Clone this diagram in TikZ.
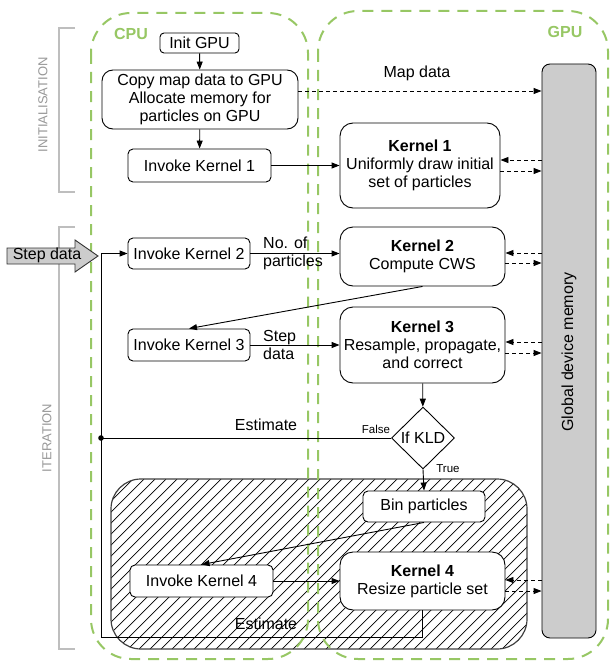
\documentclass[tikz,border=0pt]{standalone}
\usepackage{fontspec}
\setmainfont{Liberation Sans}
\usetikzlibrary{arrows.meta,shapes.geometric,calc}
\definecolor{grn}{RGB}{151,199,100}
\definecolor{memgray}{RGB}{204,204,204}
\definecolor{brk}{RGB}{190,190,190}
\tikzset{
  txt/.style={font=\fontsize{16}{18}\selectfont, inner sep=0pt},
  box/.style={txt, draw=black, line width=0.9pt, fill=white, rounded corners=5pt, align=center},
  kbox/.style={box, rounded corners=13pt},
  conn/.style={line width=0.9pt, -{Triangle[length=8pt,width=6pt]}},
  plain/.style={line width=0.9pt},
  dconn/.style={line width=0.9pt, dash pattern=on 4pt off 3pt, -{Triangle[length=8pt,width=6pt]}},
  greenbox/.style={draw=grn, line width=2pt, dash pattern=on 11pt off 8pt, rounded corners=40pt},
  bracket/.style={draw=brk, line width=1.5pt},
  small/.style={font=\fontsize{11.5}{13}\selectfont, inner sep=0pt},
  side/.style={font=\fontsize{13}{15}\selectfont, text=brk!80!black, inner sep=0pt, rotate=90},
}
\begin{document}
\begin{tikzpicture}[x=1pt,y=-1pt]
\useasboundingbox (0,0) rectangle (611,661);
% hatched region
\begin{scope}
  \clip[rounded corners=30pt] (111,479) rectangle (527,649);
  \foreach \x in {-70,-59,...,540} { \draw[line width=0.7pt] (\x,649) -- (\x+170,479); }
\end{scope}
\draw[line width=1.2pt, draw=black!75, rounded corners=30pt] (111,479) rectangle (527,649);
% green regions
\draw[greenbox] (91,13) rectangle (308,659);
\draw[greenbox] (318,11) rectangle (608,659);
\node[txt, font=\fontsize{16}{18}\selectfont\bfseries, text=grn] (cpulbl) at (131,34) {CPU};
\node[txt, font=\fontsize{16}{18}\selectfont\bfseries, text=grn] (gpulbl) at (565,32) {GPU};
% brackets
\draw[bracket] (75,28) -- (59,28) -- (59,192) -- (75,192);
\draw[bracket] (75,227) -- (59,227) -- (59,649) -- (75,649);
\node[side] (initlbl) at (43,105) {INITIALISATION};
\node[side] (iterlbl) at (47,438) {ITERATION};
% memory
\node[txt, draw=black, line width=0.9pt, fill=memgray, rounded corners=8pt, minimum width=54pt, minimum height=574pt] (mem) at (569,351) {};
\node[txt, rotate=90] (memlbl) at (569,352) {Global device memory};
% step data arrow
\draw[line width=0.9pt, draw=black!80, fill=memgray] (7,248) -- (75,248) -- (75,240) -- (98,256) -- (75,272) -- (75,264) -- (7,264) -- cycle;
\node[txt] (stepdata) at (47,255.5) {Step data};
% nodes
\node[box, minimum width=79pt, minimum height=20pt, rounded corners=4pt] (initgpu) at (199.5,43) {Init GPU};
\node[kbox, rounded corners=11pt, minimum width=196pt, minimum height=59pt] (copy) at (200,99.5) {Copy map data to GPU\\Allocate memory for\\particles on GPU};
\node[box, minimum width=143pt, minimum height=33pt] (ik1) at (199.5,165.5) {Invoke Kernel 1};
\node[kbox, minimum width=160pt, minimum height=85pt] (k1) at (420,165.5) {\textbf{Kernel 1}\\Uniformly draw initial\\set of particles};
\node[box, minimum width=122pt, minimum height=31pt] (ik2) at (189,253.5) {Invoke Kernel 2};
\node[kbox, minimum width=165pt, minimum height=59pt] (k2) at (422.5,256.5) {\textbf{Kernel 2}\\Compute CWS};
\node[box, minimum width=122pt, minimum height=32pt] (ik3) at (189,345) {Invoke Kernel 3};
\node[kbox, minimum width=165pt, minimum height=76pt] (k3) at (422.5,345) {\textbf{Kernel 3}\\Resample, propagate,\\and correct};
\node[txt, diamond, draw=black, line width=0.9pt, fill=white, minimum width=63pt, minimum height=62pt] (kld) at (423,438) {If KLD};
\node[box, minimum width=122pt, minimum height=31pt] (bin) at (424,506.5) {Bin particles};
\node[box, minimum width=143pt, minimum height=32pt] (ik4) at (201.5,581) {Invoke Kernel 4};
\node[kbox, minimum width=165pt, minimum height=58pt] (k4) at (422.5,581) {\textbf{Kernel 4}\\Resize particle set};
\coordinate (loopbl) at (101,637);
\coordinate (looptl) at (101,253.5);
\coordinate (estdot) at (101,438);
% connectors
\draw[conn] (initgpu) -- (copy);
\draw[conn] (copy) -- (ik1);
\draw[conn] (ik1) -- (k1.west |- ik1.east);
\draw[dconn] (copy.east |- 0,91) -- (mem.west |- 0,91);
\node[txt] (maplbl) at (417,73) {Map data};
\draw[dconn] (mem.west |- 0,160) -- (k1.east |- 0,160);
\draw[dconn] (k1.east |- 0,171) -- (mem.west |- 0,171);
\draw[conn] (ik2) -- (k2.west |- ik2.east);
\node[txt, anchor=west, align=left] (noparts) at (263,253.5) {No. of\\particles};
\draw[dconn] (mem.west |- 0,253) -- (k2.east |- 0,253);
\draw[dconn] (k2.east |- 0,263) -- (mem.west |- 0,263);
\draw[conn] (k2.south) -- (ik3.north);
\draw[conn] (ik3) -- (k3.west |- ik3.east);
\node[txt, anchor=west, align=left] (steplbl) at (263,345) {Step\\data};
\draw[dconn] (mem.west |- 0,342) -- (k3.east |- 0,342);
\draw[dconn] (k3.east |- 0,353) -- (mem.west |- 0,353);
\draw[conn] (k3) -- (kld);
\draw[plain] (kld.west) -- (estdot);
\fill (estdot) circle (2.8pt);
\node[txt] (est1) at (266,425) {Estimate};
\node[small] (falselbl) at (376,429) {False};
\draw[conn] (kld.south) -- (bin.north);
\node[small] (truelbl) at (448,469) {True};
\draw[conn] (bin.south) -- (ik4.north);
\draw[conn] (ik4) -- (k4.west |- ik4.east);
\draw[dconn] (mem.west |- 0,580) -- (k4.east |- 0,580);
\draw[dconn] (k4.east |- 0,591) -- (mem.west |- 0,591);
\draw[conn] (k4.south) -- (k4.south |- loopbl) -- (loopbl) -- (looptl) -- (ik2.west);
\node[txt] (est2) at (266,624) {Estimate};
\end{tikzpicture}
\end{document}
